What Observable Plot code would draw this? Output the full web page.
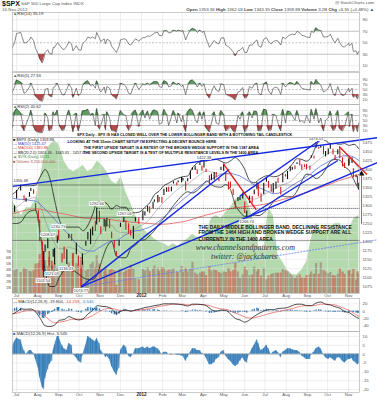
<!DOCTYPE html>
<html><head><meta charset="utf-8">
<script src="https://cdn.jsdelivr.net/npm/d3@7"></script>
<script src="https://cdn.jsdelivr.net/npm/@observablehq/plot@0.6"></script>
<style>
body{margin:0;background:#fff;font-family:"Liberation Sans",Arial,sans-serif;}
#wrap{position:relative;width:377px;height:400px;overflow:hidden;background:#fff;}
.t{position:absolute;white-space:nowrap;line-height:1;color:#333;}
svg{position:absolute;left:0;}
</style></head><body><div id="wrap"></div>
<script>
// ---------- daily samples ----------
const days = [
"2011-06-21","2011-06-24","2011-06-28",
"2011-07-01","2011-07-07","2011-07-12","2011-07-15","2011-07-20","2011-07-22","2011-07-26","2011-07-29",
"2011-08-02","2011-08-04","2011-08-08","2011-08-10","2011-08-12","2011-08-16","2011-08-18","2011-08-22","2011-08-24","2011-08-26","2011-08-30",
"2011-09-01","2011-09-06","2011-09-09","2011-09-13","2011-09-16","2011-09-20","2011-09-22","2011-09-27","2011-09-30",
"2011-10-04","2011-10-06","2011-10-11","2011-10-14","2011-10-18","2011-10-21","2011-10-25","2011-10-27","2011-10-31",
"2011-11-02","2011-11-07","2011-11-09","2011-11-11","2011-11-15","2011-11-18","2011-11-22","2011-11-25","2011-11-29",
"2011-12-01","2011-12-06","2011-12-09","2011-12-13","2011-12-16","2011-12-20","2011-12-23","2011-12-28",
"2012-01-03","2012-01-06","2012-01-10","2012-01-13","2012-01-18","2012-01-20","2012-01-25","2012-01-27","2012-01-31",
"2012-02-03","2012-02-07","2012-02-10","2012-02-14","2012-02-17","2012-02-22","2012-02-24","2012-02-29",
"2012-03-02","2012-03-06","2012-03-09","2012-03-13","2012-03-16","2012-03-20","2012-03-23","2012-03-27","2012-03-30",
"2012-04-02","2012-04-05","2012-04-10","2012-04-13","2012-04-17","2012-04-20","2012-04-24","2012-04-27",
"2012-05-01","2012-05-04","2012-05-08","2012-05-11","2012-05-15","2012-05-18","2012-05-22","2012-05-25","2012-05-29",
"2012-06-01","2012-06-04","2012-06-08","2012-06-12","2012-06-15","2012-06-19","2012-06-21","2012-06-25","2012-06-29",
"2012-07-03","2012-07-06","2012-07-10","2012-07-13","2012-07-17","2012-07-20","2012-07-24","2012-07-27","2012-07-31",
"2012-08-03","2012-08-07","2012-08-10","2012-08-14","2012-08-17","2012-08-21","2012-08-24","2012-08-28","2012-08-31",
"2012-09-05","2012-09-07","2012-09-11","2012-09-14","2012-09-18","2012-09-21","2012-09-25","2012-09-28",
"2012-10-02","2012-10-05","2012-10-09","2012-10-12","2012-10-16","2012-10-19","2012-10-23","2012-10-26",
"2012-11-01","2012-11-02","2012-11-06","2012-11-08","2012-11-12","2012-11-14","2012-11-16"];
const close = [
1296,1268,1296,
1340,1353,1314,1316,1325,1345,1331,1292,
1254,1200,1119,1120,1179,1193,1140,1123,1177,1177,1212,
1204,1165,1154,1172,1216,1202,1129,1175,1131,
1123,1164,1195,1224,1225,1238,1229,1285,1253,
1237,1262,1229,1263,1257,1216,1188,1159,1196,
1244,1258,1255,1226,1219,1241,1265,1249,
1277,1278,1292,1289,1308,1315,1326,1316,1312,
1345,1348,1342,1350,1361,1358,1366,1366,
1370,1343,1371,1396,1404,1405,1397,1412,1408,
1419,1398,1358,1370,1390,1378,1371,1403,
1405,1370,1363,1353,1330,1295,1316,1318,1333,
1278,1278,1325,1324,1343,1357,1325,1313,1362,
1375,1354,1341,1357,1364,1363,1338,1386,1379,
1391,1401,1405,1403,1418,1414,1411,1410,1406,
1404,1438,1433,1466,1459,1460,1441,1441,
1446,1461,1441,1429,1454,1433,1414,1412,
1428,1414,1428,1377,1380,1355,1360];
const high = [
1298,1285,1299,
1342,1356,1327,1320,1336,1347,1344,1305,
1286,1260,1199,1172,1190,1208,1172,1145,1178,1181,1215,
1231,1166,1185,1177,1220,1220,1165,1195,1160,
1125,1165,1200,1225,1234,1240,1256,1293,1284,
1241,1262,1259,1264,1261,1226,1202,1172,1203,
1251,1267,1258,1249,1231,1242,1266,1265,
1285,1283,1297,1296,1309,1315,1328,1322,1322,
1345,1349,1351,1351,1366,1363,1368,1378,
1375,1366,1374,1396,1405,1409,1399,1420,1410,
1422,1401,1383,1387,1392,1392,1375,1406,
1415,1391,1365,1365,1345,1312,1322,1324,1335,
1310,1285,1326,1325,1343,1363,1358,1333,1362,
1375,1367,1358,1361,1365,1376,1351,1389,1386,
1395,1408,1406,1410,1419,1427,1413,1413,1414,
1409,1438,1437,1474,1462,1467,1464,1450,
1457,1471,1456,1439,1455,1462,1433,1418,
1429,1434,1433,1402,1385,1381,1362];
const low = [
1272,1263,1280,
1318,1340,1313,1309,1323,1339,1331,1283,
1254,1199,1119,1101,1170,1180,1131,1121,1156,1135,1195,
1203,1140,1150,1136,1208,1201,1114,1163,1131,
1075,1134,1187,1204,1191,1216,1228,1246,1253,
1219,1240,1227,1240,1236,1208,1181,1158,1187,
1239,1253,1231,1220,1215,1206,1254,1248,
1258,1271,1282,1278,1290,1309,1307,1309,1306,
1328,1337,1337,1338,1360,1355,1363,1363,
1368,1340,1366,1372,1398,1397,1386,1411,1395,
1404,1392,1357,1369,1370,1377,1366,1397,
1395,1367,1343,1348,1328,1292,1311,1314,1318,
1278,1267,1306,1306,1330,1344,1324,1309,1330,
1365,1348,1337,1334,1345,1362,1329,1363,1379,
1372,1394,1398,1400,1414,1410,1398,1405,1399,
1398,1431,1429,1459,1456,1459,1441,1435,
1441,1456,1440,1426,1441,1430,1407,1403,
1409,1412,1417,1377,1377,1353,1343];
const rsi14 = [
48,40,50,
66,68,50,50,55,60,54,40,
30,22,15,22,33,38,32,30,42,42,50,
48,40,38,44,52,48,36,45,38,
37,48,54,60,58,60,57,68,58,
52,57,48,56,54,44,38,33,44,
55,57,56,48,46,52,57,53,
59,59,62,61,65,67,68,63,62,
71,71,67,68,72,70,72,70,
71,55,64,72,75,73,68,72,68,
70,58,42,47,54,50,48,58,
59,46,43,40,34,27,36,37,42,
33,33,46,46,51,55,45,42,56,
59,52,48,52,54,53,46,60,57,
61,64,65,64,70,67,63,62,60,
59,70,68,76,72,71,60,60,
61,65,55,50,58,50,43,43,
49,45,49,35,36,30,35.19];
const rsi5 = [
55,35,60,
88,80,35,40,60,75,50,22,
12,6,3,20,50,55,25,20,58,60,75,
60,30,28,50,72,55,18,55,25,
35,65,80,85,65,70,55,85,48,
40,60,35,62,55,28,20,12,50,
75,70,62,35,32,60,75,50,
72,68,75,68,78,82,80,62,58,
85,80,60,65,80,68,75,62,
68,30,65,85,88,78,60,75,62,
72,40,15,40,65,48,42,72,
70,32,25,22,15,8,40,42,58,
15,18,62,55,70,75,38,28,72,
80,45,30,55,60,55,30,75,60,
70,78,75,68,82,68,55,52,50,
48,82,70,90,75,68,40,45,
55,72,35,25,62,40,25,28,
55,40,55,18,25,12,27.53];
const rsi2 = [
85,15,85,
98,80,8,35,70,92,25,8,
3,1,1,18,80,60,8,15,85,70,92,
40,10,12,70,92,40,4,80,8,
55,88,90,95,70,80,30,98,15,
30,75,12,85,60,10,8,3,70,
90,72,70,10,25,85,92,25,
92,60,88,55,90,92,85,35,40,
95,75,30,65,90,40,80,45,
70,5,85,97,90,55,40,85,55,
85,20,4,40,85,40,35,90,
75,8,15,25,8,3,70,55,85,
3,15,85,60,88,85,8,10,95,
92,10,12,75,70,40,8,95,40,
88,85,70,50,90,45,50,40,70,
40,95,55,97,40,60,8,50,
60,88,10,15,90,15,8,25,
85,25,75,5,30,5,40.62];
const volumeB = [
4.0,5.5,3.8,
4.0,3.5,4.2,4.0,3.7,3.6,3.8,4.9,
5.0,6.5,7.5,6.8,5.5,4.5,6.0,4.6,4.6,5.0,4.2,
4.0,4.4,4.5,4.4,5.1,4.5,6.7,5.0,4.8,
6.0,5.1,3.8,4.0,4.8,5.2,4.3,6.3,4.9,
4.1,3.6,4.4,3.2,3.9,4.0,3.8,1.4,3.9,
4.2,3.5,3.8,4.0,4.7,4.1,2.4,2.3,
4.0,3.8,4.3,3.7,4.1,4.6,4.2,3.7,4.3,
4.2,3.7,3.9,3.9,4.1,3.5,3.5,4.5,
3.5,4.2,3.6,4.1,5.2,3.4,3.1,3.4,3.6,
3.6,3.0,4.5,3.7,3.9,3.8,3.5,3.3,
3.6,3.5,4.2,3.6,3.8,5.0,3.6,2.5,3.1,
4.4,3.8,3.0,3.1,4.4,3.6,4.0,2.9,4.2,
2.3,2.9,3.2,3.3,3.4,3.4,3.4,4.0,3.8,
3.6,3.2,2.9,2.5,2.9,3.1,2.6,2.6,3.0,
3.1,3.6,3.2,5.0,3.2,5.1,3.8,3.6,
3.3,3.5,3.0,2.9,3.2,4.1,3.6,3.2,
3.7,3.8,3.2,4.0,2.2,3.6,3.2];
const macdHist = [
0.5,3,7,
9,8,2,0,2,2,0.5,-3,
-8,-13,-19,-20,-14,-9,-6,-4,2,5,10,
10,5,3,2,6,5,0,-2,-4,
-5,-1,5,10,9,8,7,9,6,
2,0,-2,-1,-3,-7,-10,-12,-8,
2,5,4,-1,-2,0,3,3,
4,3,4,3,4,4,3,2,0,
1,1,0,-0.5,0,-0.5,-0.5,-1,
-1,-4,-2,1,3,3,2,2,0.5,
0,-2,-6,-6,-5,-3,-2,1,
2,-1,-3,-4,-6,-7,-6,-4,-2,
-4,-5,0,3,5,8,6,2,3,
5,3,0,1,2,1,-2,1,2,
3,3,2.5,2,2,1,-1,-2,-3,
-3,0,1,3,4,3,0,-2,
-3,-2,-3,-4,-2,-2,-4,-5,
-3,-3,-2.5,-4,-5,-6,-5.545];

// ---------- weekly samples (Fridays 2011-06-24 .. 2012-11-16) ----------
const ma50 = [1322, 1318,1317,1316,1314,1312, 1303,1290,1276,1262, 1248,1232,1219,1202,1188, 1178,1174,1173,1180, 1188,1196,1202,1203, 1210,1220,1224,1230,1231,
1235,1240,1247,1257, 1268,1280,1293,1305, 1317,1327,1338,1348,1358, 1366,1373,1380,1386, 1389,1390,1386,1382, 1374,1366,1357,1350,1344, 1338,1333,1334,1339, 1347,1356,1364,1372,1380, 1389,1400,1410,1417, 1425,1431,1436,1438, 1438,1434,1425];
const ma200 = [1276, 1280,1284,1287,1290,1291, 1290,1287,1284,1281, 1279,1276,1274,1271,1268, 1265,1264,1263,1264, 1264,1263,1261,1258, 1257,1256,1254,1253,1252,
1251,1250,1249,1248, 1248,1249,1251,1253, 1255,1258,1262,1266,1270, 1274,1277,1281,1284, 1288,1291,1293,1295, 1297,1298,1299,1301,1303, 1306,1309,1313,1317, 1320,1324,1328,1332,1336, 1341,1345,1350,1355, 1360,1365,1370,1374, 1378,1382,1386];
const bbMid = [1290, 1295,1305,1315,1320,1322, 1300,1260,1225,1195, 1180,1180,1185,1180,1175, 1165,1170,1185,1210, 1230,1245,1245,1230, 1225,1225,1230,1235,1243,
1250,1262,1280,1295, 1310,1322,1335,1346, 1355,1360,1370,1380,1390, 1396,1393,1390,1387, 1388,1384,1368,1352, 1335,1320,1318,1322,1330, 1338,1345,1352,1358, 1362,1370,1385,1398,1405, 1410,1420,1432,1440, 1447,1450,1448,1440, 1432,1420,1401];
const bbUp = [1330, 1340,1355,1355,1355,1357, 1380,1400,1375,1315, 1260,1240,1240,1240,1240, 1230,1245,1275,1310, 1310,1305,1290,1300, 1295,1295,1280,1280,1283,
1295,1307,1330,1340, 1355,1362,1370,1376, 1380,1382,1405,1418,1425, 1424,1428,1428,1423, 1418,1424,1433,1422, 1400,1370,1363,1372,1380, 1383,1380,1382,1390, 1400,1415,1430,1428,1423, 1435,1465,1482,1480, 1472,1472,1470,1472, 1467,1470,1457];
const bbLo = [1250, 1250,1255,1275,1285,1287, 1220,1120,1075,1075, 1100,1120,1130,1120,1110, 1100,1095,1095,1110, 1150,1185,1200,1160, 1155,1155,1180,1190,1203,
1205,1217,1230,1250, 1265,1282,1300,1316, 1330,1338,1335,1342,1355, 1368,1358,1352,1351, 1358,1344,1303,1282, 1270,1270,1273,1272,1280, 1293,1310,1322,1326, 1324,1325,1340,1368,1387, 1385,1375,1382,1400, 1422,1428,1426,1408, 1397,1370,1345];
const greenPct = [60, 55,50,55,55,60, 75,90,95,98, 95,85,80,78,80, 82,78,80,85, 82,78,72,70, 75,65,58,50,45,
40,38,35,33, 32,30,32,30, 33,35,38,36,34, 40,48,50,48, 52,55,60,62, 65,55,45,30,28, 55,50,25,20, 15,12,12,15,20, 35,45,40,38, 42,45,45,40, 42,48,50];
const macdLine = [-9, -2,6,5,6,-2, -20,-40,-42,-38, -25,-23,-15,-20,-24, -21,-8,2,15, 13,12,6,-6, 0,3,0,3,6,
10,12,15,17, 20,20,20,19, 17,14,19,19,18, 14,4,0,3, 2,-8,-20,-24, -30,-24,-14,-6,0, 4,4,7,8, 10,15,19,19,15, 15,22,25,19, 17,12,8,-1, -4,-13,-19.8];
const macdSignal = [-7, -6,-2,1,3,2, -4,-14,-25,-32, -30,-28,-24,-22,-22, -22,-18,-12,-4, 3,7,8,4, 2,2,1,2,3,
5,7,10,13, 15,17,19,19, 19,17,17,18,18, 17,13,9,6, 5,1,-5,-10, -16,-19,-18,-15,-11, -7,-4,-1,2, 4,7,11,14,15, 15,16,19,19, 18,17,12,7, 2,-6,-14.26];

// ---------- axes / annotations ----------
const monthTicks = ["2011-07-01","2011-08-01","2011-09-01","2011-10-01","2011-11-01","2011-12-01","2012-01-01","2012-02-01","2012-03-01","2012-04-01","2012-05-01","2012-06-01","2012-07-01","2012-08-01","2012-09-01","2012-10-01","2012-11-01"];
const monthLabels = ["Jul","Aug","Sep","Oct","Nov","Dec","2012","Feb","Mar","Apr","May","Jun","Jul","Aug","Sep","Oct","Nov"];
const priceTicks = [1475,1450,1425,1400,1375,1350,1325,1300,1275,1250,1225,1200,1175,1150,1125,1100,1075];
const rsiTicks = [90,70,50,30,10];
const macdTicks = [20,0,-20,-40];
const histTicks = [10,5,0,-5,-10,-15,-20];
const volTicks = [1,2,3,4,5,6,7];

const levelStart = ["2011-06-25","2011-10-27","2011-06-25","2011-06-25"];
const levelPrice = [1357,1292,1267,1203];
const blueFrom = ["2011-06-25","2011-10-04","2011-10-04","2012-06-04","2012-05-25"];
const blueFromP = [1353,1074,1074,1266,1326];
const blueTo = ["2012-12-14","2012-05-09","2012-12-14","2012-10-16","2012-09-20"];
const blueToP = [1488.6,1400,1420,1425,1482];
const lightFrom = ["2011-10-04"], lightFromP = [1074], lightTo = ["2012-12-14"], lightToP = [1205];
const redFrom = ["2012-05-01","2012-10-18"], redFromP = [1415,1464], redTo = ["2012-06-18","2012-11-28"], redToP = [1288,1386];
const arrowDate = ["2012-11-20"], arrowFrom = [1248], arrowTo = [1388];

const hiLblDate = ["2011-07-07","2011-08-16","2011-08-31","2011-10-27","2011-12-07","2012-04-02","2012-09-14"];
const hiLblVal = [1356.48,1208.47,1230.71,1292.66,1267.06,1422.38,1474.51];
const loLblDate = ["2011-08-09","2011-08-22","2011-09-12","2011-10-04","2012-06-04"];
const loLblVal = [1101.54,1121.09,1136.43,1074.77,1266.74];

const noteADate = ["2011-09-28","2011-09-14","2011-10-08","2011-10-07"];
const noteAPrice = [1497,1478,1461,1446];
const noteAText = [
 "SPX Daily - SPX IS HAS CLOSED WELL OVER THE LOWER BOLLINGER BAND WITH A BOTTOMING TAIL CANDLESTICK",
 "LOOKING AT THE 15min CHART SETUP I'M EXPECTING A DECENT BOUNCE HERE",
 "THE FIRST UPSIDE TARGET IS A RETEST OF THE BROKEN WEDGE SUPPORT IN THE 1387 AREA",
 "THE SECOND UPSIDE TARGET IS A TEST OF MULTIPLE RESISTANCE LEVELS IN THE 1400 AREA"];
const noteBDate = ["2012-03-25","2012-03-25","2012-03-25"];
const noteBPrice = [1240,1224,1207];
const noteBText = [
 "THE DAILY MIDDLE BOLLINGER BAND, DECLINING RESISTANCE",
 "FROM THE 1464 HIGH AND BROKEN WEDGE SUPPORT ARE ALL",
 "CURRENTLY IN THE 1400 AREA"];
const webDate = ["2012-06-02","2012-05-31"], webPrice = [1183,1158];
const webText = ["www.channelsandpatterns.com","twitter: @jackcharts"];

// ---------- build ----------
const D = s => new Date(s + "T00:00:00Z");
const chk = (name, arrs) => { const l = arrs.map(a => a.length); if (new Set(l).size > 1) throw new Error(name + " lengths " + l.join(",")); };
chk("daily", [days, close, high, low, rsi14, rsi5, rsi2, volumeB, macdHist]);
const weeks = d3.utcFriday.range(D("2011-06-24"), D("2012-11-17"));
chk("weekly", [weeks, ma50, ma200, bbMid, bbUp, bbLo, greenPct, macdLine, macdSignal]);

const dayRows = days.map((d, i) => ({date: D(d), c: close[i], h: high[i], l: low[i], r14: rsi14[i], r5: rsi5[i], r2: rsi2[i], v: volumeB[i], hs: macdHist[i], down: i > 0 && close[i] < close[i - 1]}));
const wkRows = weeks.map((d, i) => ({date: d, ma50: ma50[i], ma200: ma200[i], mid: bbMid[i], up: bbUp[i], lo: bbLo[i], g: greenPct[i], m: macdLine[i], s: macdSignal[i]}));
const months = monthTicks.map((d, i) => ({date: D(d), label: monthLabels[i]}));
const idx = a => a.map((_, i) => i);

const X0 = D("2011-06-25"), X1 = D("2012-11-17");
const wrap = document.getElementById("wrap");
const FONT = "Liberation Sans, Arial, sans-serif";
const GRID = "#e2e2e2", FRAME = "#a8a8a8";

function panel(top, height, yDomain, marks, mb = 0) {
  const p = Plot.plot({
    width: 377, height: height + mb, marginLeft: 12, marginRight: 18, marginTop: 0, marginBottom: mb,
    x: {type: "utc", domain: [X0, X1], axis: null},
    y: {domain: yDomain, axis: null},
    style: {background: "transparent", overflow: "visible", fontFamily: FONT},
    marks
  });
  p.style.top = top + "px";
  wrap.appendChild(p);
  return p;
}
const rightAxis = (ticks) => Plot.text(ticks, {x: X1, y: d => d, text: d => String(d), textAnchor: "start", dx: 3, fontSize: 4.3, fill: "#555"});
const monthGrid = () => Plot.ruleX(months, {x: "date", stroke: GRID, strokeWidth: 0.6});
const monthText = () => [
  Plot.text(months.filter(m => m.label !== "2012"), {x: "date", text: "label", frameAnchor: "bottom", dy: 3, fontSize: 4.3, fill: "#555"}),
  Plot.text(months.filter(m => m.label === "2012"), {x: "date", text: "label", frameAnchor: "bottom", dy: 3, fontSize: 4.5, fontWeight: "bold", fill: "#222"})
];

function rsiPanel(top, height, dom, key) {
  panel(top, height, dom, [
    monthGrid(),
    Plot.ruleY([90, 10], {stroke: GRID, strokeWidth: 0.6}),
    Plot.ruleY([70, 30], {stroke: "#9a9a9a", strokeWidth: 0.6}),
    Plot.ruleY([50], {stroke: "#9a9a9a", strokeWidth: 0.6, strokeDasharray: "2,1.5"}),
    Plot.areaY(dayRows, {x: "date", y1: 70, y2: d => Math.max(70, d[key]), fill: "#5f9d5f", clip: true}),
    Plot.areaY(dayRows, {x: "date", y1: 30, y2: d => Math.min(30, d[key]), fill: "#b24c4c", clip: true}),
    Plot.line(dayRows, {x: "date", y: key, stroke: "#3a3a3a", strokeWidth: 0.6, clip: true}),
    Plot.frame({stroke: FRAME, strokeWidth: 0.6}),
    rightAxis(rsiTicks)
  ]);
}
rsiPanel(12, 59, [0, 102.7], "r14");
rsiPanel(72, 32, [-10, 118], "r5");
rsiPanel(104, 33, [-18, 114], "r2");

// main panel layers
const MT = 137, MH = 156, PDOM = [1055.6, 1488.9];
panel(MT, MH, [0, 100], [
  Plot.areaY(wkRows, {x: "date", y: "g", fill: "#b4d9ad", curve: "linear", clip: true}),
  monthGrid()
]);
panel(MT, MH, [0, 26], [
  Plot.ruleX(dayRows, {x: "date", y1: 0, y2: "v", stroke: d => d.down ? "#c66a57" : "#9c8a7c", strokeOpacity: 0.75, strokeWidth: 2.2, clip: true}),
  Plot.text(volTicks, {x: X0, y: d => d, text: d => d + "B", textAnchor: "end", dx: -1.5, fontSize: 4, fill: "#555"})
]);
panel(MT, MH, PDOM, [
  Plot.ruleY(priceTicks, {stroke: GRID, strokeWidth: 0.5, strokeOpacity: 0.8}),
  Plot.line(wkRows, {x: "date", y: "mid", stroke: "#888", strokeWidth: 0.5, curve: "monotone-x", clip: true}),
  Plot.line(wkRows, {x: "date", y: "up", stroke: "#111", strokeWidth: 0.8, strokeDasharray: "1.3,0.9", curve: "monotone-x", clip: true}),
  Plot.line(wkRows, {x: "date", y: "lo", stroke: "#111", strokeWidth: 0.8, strokeDasharray: "1.3,0.9", curve: "monotone-x", clip: true}),
  Plot.line(wkRows, {x: "date", y: "ma200", stroke: "#e35b5b", strokeWidth: 0.8, curve: "monotone-x", clip: true}),
  Plot.line(wkRows, {x: "date", y: "ma50", stroke: "#5a6fd6", strokeWidth: 0.8, curve: "monotone-x", clip: true}),
  Plot.link(idx(levelPrice), {x1: i => D(levelStart[i]), x2: X1, y1: i => levelPrice[i], y2: i => levelPrice[i], stroke: "#111", strokeWidth: 0.8, strokeDasharray: "1,1"}),
  Plot.link(idx(lightFrom), {x1: i => D(lightFrom[i]), y1: i => lightFromP[i], x2: i => D(lightTo[i]), y2: i => lightToP[i], stroke: "#6a7cf0", strokeWidth: 0.8, strokeDasharray: "2,1"}),
  Plot.ruleX(dayRows, {x: "date", y1: "l", y2: "h", stroke: d => d.down ? "#d41c1c" : "#111", strokeWidth: 1.1, clip: true}),
  Plot.link(idx(blueFrom), {x1: i => D(blueFrom[i]), y1: i => blueFromP[i], x2: i => D(blueTo[i]), y2: i => blueToP[i], stroke: "#1428e0", strokeWidth: 1.4}),
  Plot.link(idx(redFrom), {x1: i => D(redFrom[i]), y1: i => redFromP[i], x2: i => D(redTo[i]), y2: i => redToP[i], stroke: "#e01818", strokeWidth: 1.3}),
  Plot.link(idx(arrowDate), {x1: i => D(arrowDate[i]), x2: i => D(arrowDate[i]), y1: i => arrowFrom[i], y2: i => arrowTo[i], stroke: "#777", strokeWidth: 1}),
  Plot.dot(idx(arrowDate), {x: i => D(arrowDate[i]), y: i => arrowTo[i], symbol: "triangle", r: 2.2, fill: "#111"}),
  Plot.text(idx(hiLblDate), {x: i => D(hiLblDate[i]), y: i => hiLblVal[i], text: i => hiLblVal[i].toFixed(2), dy: -4, fontSize: 4, fill: "#333", stroke: "white", strokeWidth: 1.8}),
  Plot.text(idx(loLblDate), {x: i => D(loLblDate[i]), y: i => loLblVal[i], text: i => loLblVal[i].toFixed(2), dy: 4, fontSize: 4, fill: "#333", stroke: "white", strokeWidth: 1.8}),
  Plot.text(idx(noteAText), {x: i => D(noteADate[i]), y: i => noteAPrice[i], text: i => noteAText[i], textAnchor: "start", fontSize: 3.75, fontWeight: "bold", fill: "#111"}),
  Plot.text(idx(noteBText), {x: i => D(noteBDate[i]), y: i => noteBPrice[i], text: i => noteBText[i], textAnchor: "start", fontSize: 4.9, fontWeight: "bold", fill: "#111"}),
  Plot.text(idx(webText), {x: i => D(webDate[i]), y: i => webPrice[i], text: i => webText[i], fontSize: 8, fontStyle: "italic", fontFamily: "Liberation Serif, DejaVu Serif, serif", fill: "#333", letterSpacing: 0.4}),
  Plot.frame({stroke: FRAME, strokeWidth: 0.6}),
  rightAxis(priceTicks),
  ...monthText()
], 8);

// MACD panel
panel(298, 33, [-55.5, 34.5], [
  monthGrid(),
  Plot.ruleY([20, -20, -40], {stroke: GRID, strokeWidth: 0.6}),
  Plot.ruleY([0], {stroke: "#aaa", strokeWidth: 0.6}),
  Plot.ruleX(dayRows, {x: "date", y1: 0, y2: "hs", stroke: "#2f78b5", strokeWidth: 1.4, clip: true}),
  Plot.line(wkRows, {x: "date", y: "s", stroke: "#ec6a6a", strokeWidth: 0.8, curve: "monotone-x", clip: true}),
  Plot.line(wkRows, {x: "date", y: "m", stroke: "#222", strokeWidth: 0.8, curve: "monotone-x", clip: true}),
  Plot.frame({stroke: FRAME, strokeWidth: 0.6}),
  rightAxis(macdTicks)
]);
// MACD histogram panel
panel(331, 61, [-21.7, 12.8], [
  monthGrid(),
  Plot.ruleY(histTicks, {stroke: GRID, strokeWidth: 0.6}),
  Plot.areaY(dayRows, {x: "date", y1: 0, y2: "hs", fill: "#4f93c8", clip: true}),
  Plot.ruleX(dayRows, {x: "date", y1: 0, y2: "hs", stroke: "#2b6aa5", strokeWidth: 0.6, clip: true}),
  Plot.ruleY([0], {stroke: "#888", strokeWidth: 0.5}),
  Plot.frame({stroke: FRAME, strokeWidth: 0.6}),
  rightAxis(histTicks),
  ...monthText()
], 8);

// ---------- text (header & legends) ----------
function txt(html, css) { const d = document.createElement("div"); d.className = "t"; d.innerHTML = html; Object.assign(d.style, css); wrap.appendChild(d); }
txt("<b>$SPX</b>", {left: "2px", top: "0px", fontSize: "7px", color: "#111"});
txt("S&amp;P 500 Large Cap Index INDX", {left: "21px", top: "1.6px", fontSize: "4.4px", color: "#555"});
txt("16-Nov-2012", {left: "2px", top: "7.6px", fontSize: "4.4px", color: "#555"});
txt("@ StockCharts.com", {right: "3px", top: "1.4px", fontSize: "4.4px", color: "#555"});
txt("<b>Open</b> 1353.36 <b>High</b> 1362.03 <b>Low</b> 1343.35 <b>Close</b> 1359.88 <b>Volume</b> 3.2B <b>Chg</b> +6.55 (+0.48%) &#9650;", {right: "3px", top: "7.6px", fontSize: "4.4px", color: "#444"});
txt("<span style='color:#3a8a3a'>&#9650;</span>RSI(14) 35.19", {left: "13px", top: "12.4px", fontSize: "4.2px"});
txt("<span style='color:#3a8a3a'>&#9650;</span>RSI(5) 27.53", {left: "13px", top: "73.6px", fontSize: "4.2px"});
txt("<span style='color:#3a8a3a'>&#9650;</span>RSI(2) 40.62", {left: "13px", top: "104.6px", fontSize: "4.2px"});
txt("&#9632; $SPX (Daily) 1359.88<br><span style='color:#3347d0'>&#8212; MA(50) 1425.47</span><br><span style='color:#d63a3a'>&#8212; MA(200) 1385.88</span><br>&#8212; BB(20,2.0) 1401.33 - 1345.61 - 1457.05<br><span style='color:#3a8a3a'>&#9650; $VIX (Daily) 16.41</span><br><span style='color:#b05a4a'>&#9632; Volume 3,200,000,000</span>",
    {left: "13px", top: "137.6px", fontSize: "3.9px", lineHeight: "4.4px", color: "#222"});
txt("&#8212; MACD(12,26,9) -19.804, <span style='color:#e03a3a'>-14.259</span>, <span style='color:#2f78b5'>-5.545</span>", {left: "13px", top: "299.8px", fontSize: "4.2px"});
txt("<span style='color:#2f78b5'>&#9632;</span> MACD(12,26,9) Hist -5.545", {left: "13px", top: "331.6px", fontSize: "4.2px"});
</script></body></html>
